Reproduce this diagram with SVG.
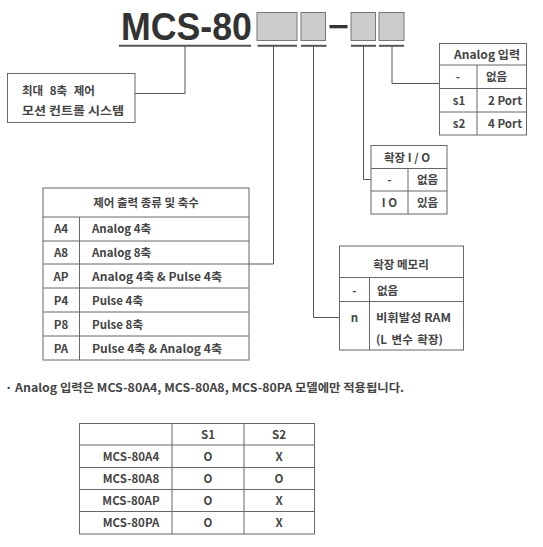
<svg xmlns="http://www.w3.org/2000/svg" width="543" height="547" viewBox="0 0 543 547">
<style>
.t{font-family:"Noto Sans CJK KR","Noto Sans",sans-serif;font-size:11.5px;font-weight:bold;fill:#444}
.c{text-anchor:middle}
.tb{fill:#fff;stroke:#666;stroke-width:1}
.ln{stroke:#666;stroke-width:1;fill:none}
.cn{stroke:#555;stroke-width:1;fill:none}
.gb{fill:#ccc;stroke:#777;stroke-width:1}
.ul{stroke:#555;stroke-width:2}
</style>
<rect width="543" height="547" fill="#fff"/>
<g id="title">
<text x="121" y="40" font-family="Liberation Sans, Arial, sans-serif" font-size="39" font-weight="bold" fill="#333" textLength="131" lengthAdjust="spacingAndGlyphs">MCS-80</text>
<line class="ul" x1="119" y1="45.8" x2="251" y2="45.8"/>
<rect class="gb" x="257" y="12.5" width="40" height="28"/>
<rect class="gb" x="301" y="12.5" width="24.5" height="28"/>
<rect x="329.5" y="25" width="18" height="3.3" fill="#333"/>
<rect class="gb" x="351" y="12.5" width="24.5" height="28"/>
<rect class="gb" x="379" y="12.5" width="25" height="28"/>
<line class="ul" x1="257.5" y1="45.8" x2="297" y2="45.8"/>
<line class="ul" x1="301" y1="45.8" x2="326.5" y2="45.8"/>
<line class="ul" x1="351" y1="45.8" x2="376" y2="45.8"/>
<line class="ul" x1="379" y1="45.8" x2="404" y2="45.8"/>
</g>
<g id="connectors">
<polyline class="cn" points="185,46 185,93.5 135,93.5"/>
<polyline class="cn" points="273.5,46 273.5,264 249,264"/>
<polyline class="cn" points="313.5,46 313.5,317.5 339,317.5"/>
<polyline class="cn" points="363.5,46 363.5,179.5 371,179.5"/>
<polyline class="cn" points="392,46 392,83.5 439,83.5"/>
</g>
<g id="system">
<rect class="tb" x="7.5" y="73.5" width="127.5" height="49"/>
<text class="t" x="22" y="95" word-spacing="4">최대 8축 제어</text>
<text class="t" x="22" y="114.5" textLength="102" lengthAdjust="spacingAndGlyphs">모션 컨트롤 시스템</text>
</g>
<g id="analog-input">
<rect class="tb" x="439.5" y="43.5" width="87" height="91.5"/>
<line class="ln" x1="439.5" y1="65" x2="526.5" y2="65"/>
<line class="ln" x1="439.5" y1="88.5" x2="526.5" y2="88.5"/>
<line class="ln" x1="439.5" y1="112" x2="526.5" y2="112"/>
<line class="ln" x1="477" y1="65" x2="477" y2="135"/>
<text class="t" x="454" y="58.5" textLength="66" lengthAdjust="spacingAndGlyphs">Analog 입력</text>
<text class="t c" x="458" y="81">-</text>
<text class="t c" x="496.5" y="81">없음</text>
<text class="t c" x="459" y="104.5">s1</text>
<text class="t" x="488" y="104.5" textLength="34" lengthAdjust="spacingAndGlyphs">2 Port</text>
<text class="t c" x="459" y="127.5">s2</text>
<text class="t" x="488" y="127.5" textLength="34" lengthAdjust="spacingAndGlyphs">4 Port</text>
</g>
<g id="expansion-io">
<rect class="tb" x="371" y="145.5" width="76" height="68.5"/>
<line class="ln" x1="371" y1="168.5" x2="447" y2="168.5"/>
<line class="ln" x1="371" y1="191" x2="447" y2="191"/>
<line class="ln" x1="408" y1="168.5" x2="408" y2="214"/>
<text class="t c" x="407" y="161.5">확장 I / O</text>
<text class="t c" x="389.5" y="184">-</text>
<text class="t c" x="427.5" y="184">없음</text>
<text class="t c" x="389.5" y="207">I O</text>
<text class="t c" x="427.5" y="207">있음</text>
</g>
<g id="control-output">
<rect class="tb" x="43" y="188" width="206" height="172"/>
<line class="ln" x1="43" y1="217" x2="249" y2="217"/>
<line class="ln" x1="43" y1="241" x2="249" y2="241"/>
<line class="ln" x1="43" y1="264" x2="249" y2="264"/>
<line class="ln" x1="43" y1="288" x2="249" y2="288"/>
<line class="ln" x1="43" y1="312" x2="249" y2="312"/>
<line class="ln" x1="43" y1="336" x2="249" y2="336"/>
<line class="ln" x1="79.5" y1="217" x2="79.5" y2="360"/>
<text class="t c" x="146" y="206.5">제어 출력 종류 및 축수</text>
<text class="t c" x="61" y="233">A4</text><text class="t" x="92" y="233">Analog 4축</text>
<text class="t c" x="61" y="256.5">A8</text><text class="t" x="92" y="256.5">Analog 8축</text>
<text class="t c" x="61" y="280.5">AP</text><text class="t" x="92" y="280.5" textLength="130" lengthAdjust="spacingAndGlyphs">Analog 4축 &amp; Pulse 4축</text>
<text class="t c" x="61" y="304.5">P4</text><text class="t" x="92" y="304.5">Pulse 4축</text>
<text class="t c" x="61" y="328.5">P8</text><text class="t" x="92" y="328.5">Pulse 8축</text>
<text class="t c" x="61" y="352.5">PA</text><text class="t" x="92" y="352.5" textLength="130" lengthAdjust="spacingAndGlyphs">Pulse 4축 &amp; Analog 4축</text>
</g>
<g id="memory">
<rect class="tb" x="339.5" y="246" width="124" height="104"/>
<line class="ln" x1="339.5" y1="277.5" x2="463.5" y2="277.5"/>
<line class="ln" x1="339.5" y1="301.5" x2="463.5" y2="301.5"/>
<line class="ln" x1="369.5" y1="277.5" x2="369.5" y2="350"/>
<text class="t c" x="401" y="268.5">확장 메모리</text>
<text class="t c" x="354.5" y="295">-</text>
<text class="t" x="377" y="295">없음</text>
<text class="t c" x="354.5" y="321.5">n</text>
<text class="t" x="376" y="321.5" textLength="75" lengthAdjust="spacingAndGlyphs">비휘발성 RAM</text>
<text class="t" x="376" y="343.5" word-spacing="2">(L 변수 확장)</text>
</g>
<g id="note">
<text class="t" x="5" y="392" textLength="399" lengthAdjust="spacingAndGlyphs">· Analog 입력은 MCS-80A4, MCS-80A8, MCS-80PA 모델에만 적용됩니다.</text>
</g>
<g id="model-table">
<rect class="tb" x="79.5" y="423.5" width="235" height="110.5"/>
<line class="ln" x1="79.5" y1="445" x2="314.5" y2="445"/>
<line class="ln" x1="79.5" y1="467.5" x2="314.5" y2="467.5"/>
<line class="ln" x1="79.5" y1="489.5" x2="314.5" y2="489.5"/>
<line class="ln" x1="79.5" y1="511.5" x2="314.5" y2="511.5"/>
<line class="ln" x1="172" y1="423.5" x2="172" y2="534"/>
<line class="ln" x1="244" y1="423.5" x2="244" y2="534"/>
<text class="t c" x="208" y="438.5">S1</text>
<text class="t c" x="279" y="438.5">S2</text>
<text class="t c" x="131" y="460.5">MCS-80A4</text><text class="t c" x="208" y="460.5">O</text><text class="t c" x="279" y="460.5">X</text>
<text class="t c" x="131" y="482.5">MCS-80A8</text><text class="t c" x="208" y="482.5">O</text><text class="t c" x="279" y="482.5">O</text>
<text class="t c" x="131" y="504.5">MCS-80AP</text><text class="t c" x="208" y="504.5">O</text><text class="t c" x="279" y="504.5">X</text>
<text class="t c" x="131" y="527">MCS-80PA</text><text class="t c" x="208" y="527">O</text><text class="t c" x="279" y="527">X</text>
</g>
</svg>
